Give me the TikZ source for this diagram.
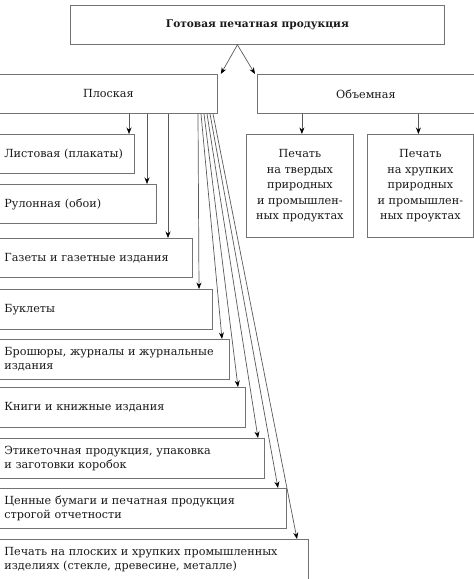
\documentclass[tikz,border=0pt]{standalone}
\usepackage{fontspec}
\setmainfont{DejaVu Serif}
\usetikzlibrary{arrows.meta}

\begin{document}
\begin{tikzpicture}[x=1pt,y=-1pt]
\useasboundingbox (0,0) rectangle (474,579);
\begin{scope}[every node/.style={draw=black!55, line width=0.8pt, text=black!90, inner sep=0pt,
    font=\fontsize{11.2}{14.5}\selectfont},
  box/.style={anchor=north west, minimum height=#1},
  item/.style={anchor=north west, minimum height=40, inner xsep=5pt, align=left, text width=#1},
  arr/.style={draw=black!65, line width=0.7pt, -{Stealth[length=6.5pt,width=5pt,color=black]}}]

\node [box=39, minimum width=374, font=\fontsize{10.6}{14}\selectfont\bfseries] (top) at (70,5)
  {Готовая печатная продукция};

\node [box=39, minimum width=218] (flat) at (-1,74)  {Плоская};
\node [box=39, minimum width=217] (vol)  at (257,74) {Объемная};

\node [box=103, minimum width=107, align=center, font=\fontsize{11.2}{15.5}\selectfont] (p1) at (246,134)
  {Печать\\на твердых\\природных\\и промышлен-\\ных продуктах};
\node [box=103, minimum width=106, align=center, font=\fontsize{11.2}{15.5}\selectfont] (p2) at (367,134)
  {Печать\\на хрупких\\природных\\и промышлен-\\ных проуктах};

\node [item=125, minimum height=39] (b1) at (-1,134) {Листовая (плакаты)};
\node [item=147, minimum height=39] (b2) at (-1,184) {Рулонная (обои)};
\node [item=183, minimum height=39] (b3) at (-1,238) {Газеты и газетные издания};
\node [item=203] (b4) at (-1,289) {Буклеты};
\node [item=220] (b5) at (-1,339) {Брошюры, журналы и журнальные\\издания};
\node [item=236] (b6) at (-1,387) {Книги и книжные издания};
\node [item=255] (b7) at (-1,438) {Этикеточная продукция, упаковка\\и заготовки коробок};
\node [item=277] (b8) at (-1,488) {Ценные бумаги и печатная продукция\\строгой отчетности};
\node [item=299] (b9) at (-1,539) {Печать на плоских и хрупких промышленных\\изделиях (стекле, древесине, металле)};

% top level
\draw [arr] ([xshift=-20pt]top.south) -- ([xshift=3pt]flat.north east);
\draw [arr] ([xshift=-20pt]top.south) -- ([xshift=-2pt]vol.north west);

% volume branch
\draw [arr] ([xshift=2pt]p1.north |- vol.south) -- ([xshift=2pt]p1.north);
\draw [arr] ([xshift=-2pt]p2.north |- vol.south) -- ([xshift=-2pt]p2.north);

% flat branch
\draw [arr] ([xshift=130pt]flat.south west) -- ([xshift=130pt]b1.north west);
\draw [arr] ([xshift=148pt]flat.south west) -- ([xshift=148pt]b2.north west);
\draw [arr] ([xshift=169pt]flat.south west) -- ([xshift=169pt]b3.north west);
\draw [arr] ([xshift=199pt]flat.south west) -- ([xshift=200pt]b4.north west);
\draw [arr] ([xshift=202pt]flat.south west) -- ([xshift=223pt]b5.north west);
\draw [arr] ([xshift=205pt]flat.south west) -- ([xshift=239pt]b6.north west);
\draw [arr] ([xshift=208pt]flat.south west) -- ([xshift=259pt]b7.north west);
\draw [arr] ([xshift=211pt]flat.south west) -- ([xshift=279pt]b8.north west);
\draw [arr] ([xshift=214pt]flat.south west) -- ([xshift=298pt]b9.north west);

\end{scope}
\end{tikzpicture}
\end{document}
